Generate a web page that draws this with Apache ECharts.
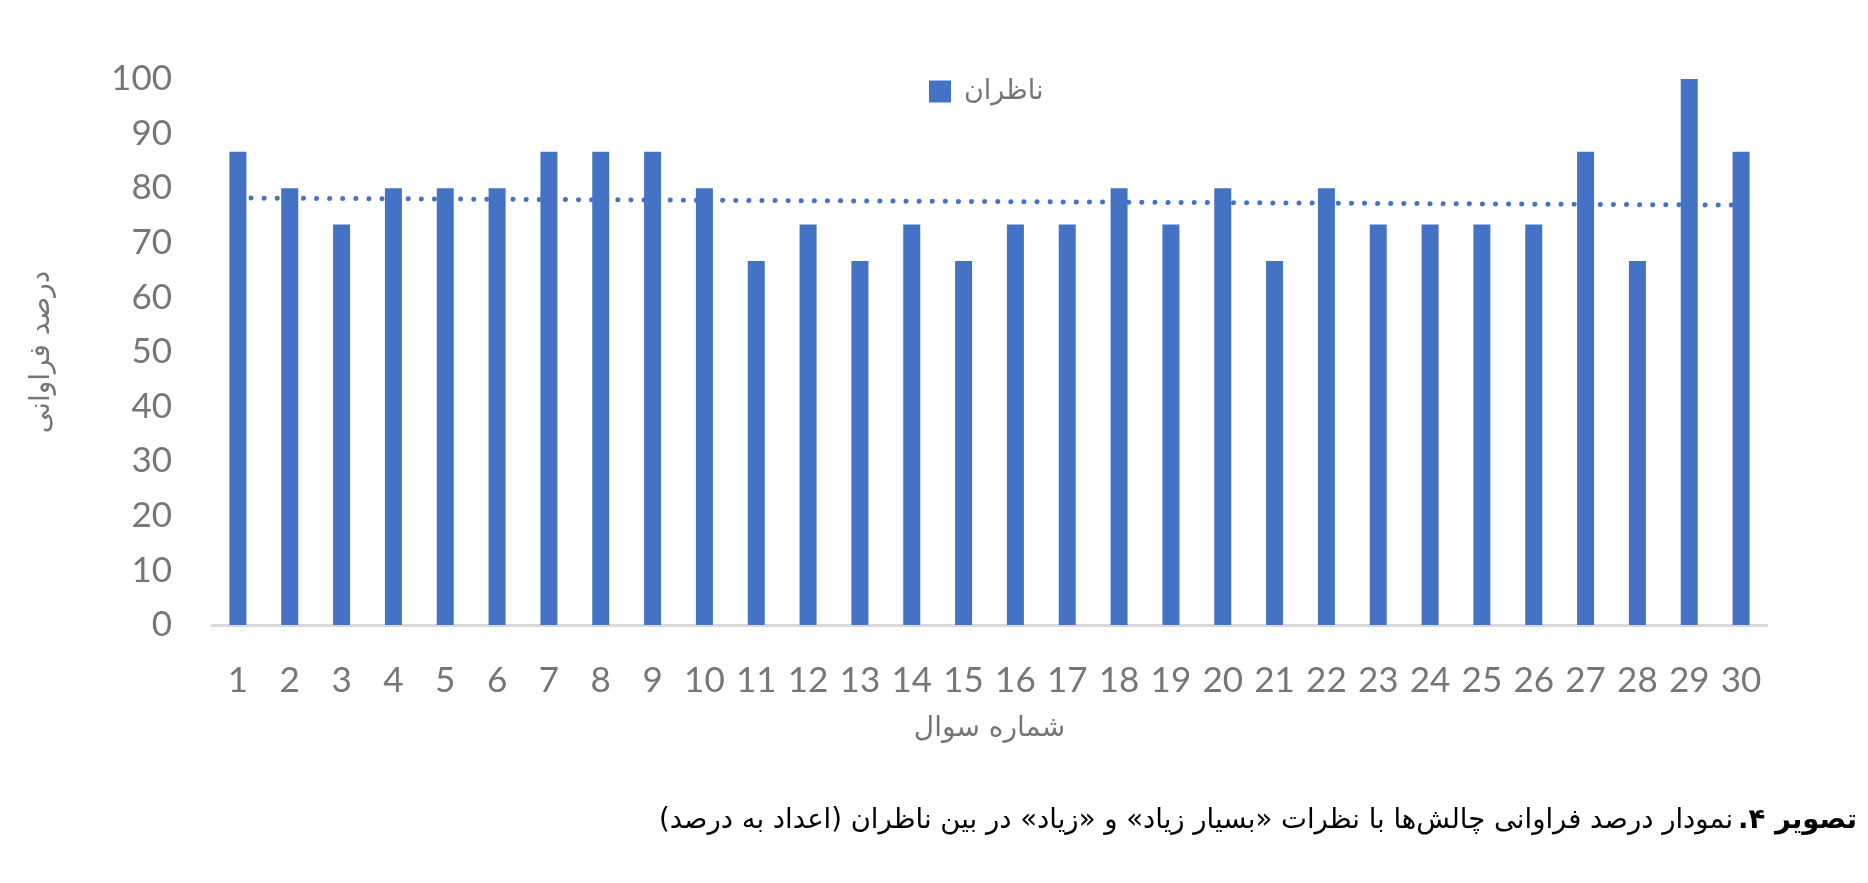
<!DOCTYPE html>
<html>
<head>
<meta charset="utf-8">
<script src="https://cdn.jsdelivr.net/npm/echarts@6/dist/echarts.min.js"></script>
<style>
html,body{margin:0;padding:0;background:#fff;}
#c{width:1868px;height:883px;}
</style>
</head>
<body>
<div id="c" dir="rtl"></div>
<script>
const categories = ['1','2','3','4','5','6','7','8','9','10','11','12','13','14','15','16','17','18','19','20','21','22','23','24','25','26','27','28','29','30'];
const seriesName = 'ناظران';
const values = [86.67,80,73.33,80,80,80,86.67,86.67,86.67,80,66.67,73.33,66.67,73.33,66.67,73.33,73.33,80,73.33,80,66.67,80,73.33,73.33,73.33,73.33,86.67,66.67,100,86.67];
const trendEnds = [78.2, 76.9];
const yTicks = {min:0, max:100, interval:10};
const xName = 'شماره سوال';
const yName = 'درصد فراوانی';
const captionBold = 'تصویر ۴.';
const captionText = 'نمودار درصد فراوانی چالش‌ها با نظرات «بسیار زیاد» و «زیاد» در بین ناظران (اعداد به درصد)';

const trendData = categories.map((c,i)=> i===0 ? trendEnds[0] : (i===categories.length-1 ? trendEnds[1] : null));

const chart = echarts.init(document.getElementById('c'), null, {renderer:'canvas'});
const gray = '#767676';
const persian = '"DejaVu Sans", "Noto Sans", sans-serif';
chart.setOption({
  animation:false,
  backgroundColor:'#fff',
  title:{
    text:'{n|'+captionText+'} {b|'+captionBold+'}',
    right:6, top:802,
    textStyle:{
      rich:{
        n:{fontFamily:persian, fontSize:27.5, color:'#000', fontWeight:'normal'},
        b:{fontFamily:persian, fontSize:27.5, color:'#000', fontWeight:'bold'}
      }
    }
  },
  legend:{
    data:[seriesName],
    top:73, left:924,
    itemWidth:22, itemHeight:22,
    icon:'rect',
    textStyle:{fontFamily:persian, fontSize:27, color:gray, padding:[0,0,0,8]}
  },
  grid:{left:212, right:101, top:79, bottom:258, containLabel:false},
  xAxis:{
    type:'category',
    data:categories,
    name:xName, nameLocation:'middle', nameGap:90,
    nameTextStyle:{fontFamily:persian, fontSize:28, color:gray},
    axisLine:{lineStyle:{color:'#d9d9d9', width:3}},
    axisTick:{show:false},
    axisLabel:{fontFamily:'Lato', fontSize:35, color:gray, margin:38, interval:0}
  },
  yAxis:{
    type:'value',
    min:yTicks.min, max:yTicks.max, interval:yTicks.interval,
    name:yName, nameLocation:'middle', nameGap:156, nameRotate:90,
    nameTextStyle:{fontFamily:persian, fontSize:28, color:gray},
    axisLine:{show:false}, axisTick:{show:false},
    splitLine:{show:false},
    axisLabel:{fontFamily:'Lato', fontSize:35, color:gray, margin:40}
  },
  series:[
    {
      name:'trend', type:'line', data:trendData, connectNulls:true,
      symbol:'none', silent:true, z:1,
      lineStyle:{color:'#4472C4', width:5, type:[0.1,13], cap:'round'}
    },
    {
      name:seriesName, type:'bar', data:values, barWidth:17, z:3,
      itemStyle:{color:'#4472C4'}
    }
  ]
});
</script>
</body>
</html>
